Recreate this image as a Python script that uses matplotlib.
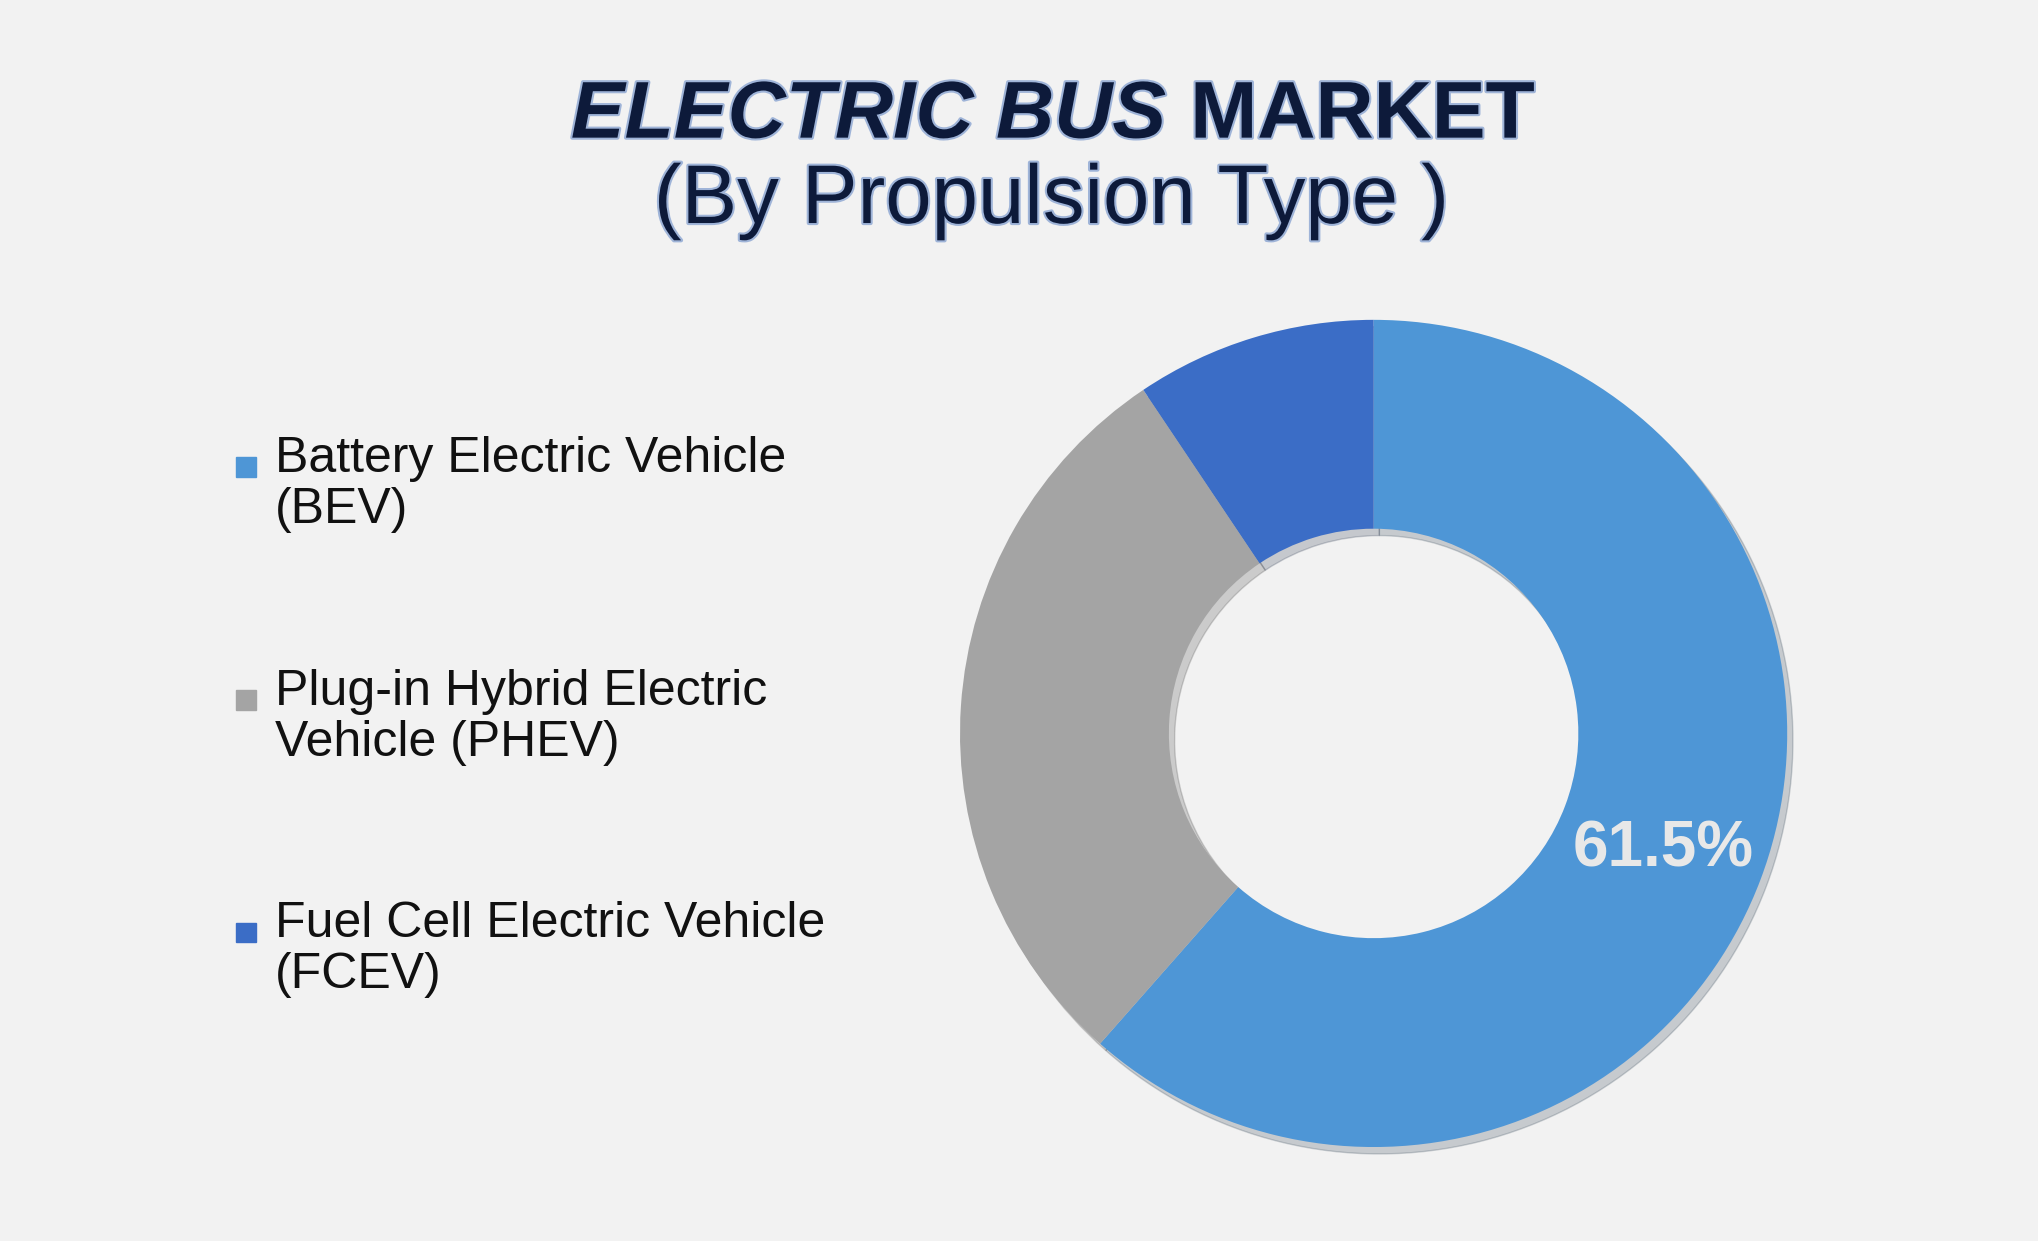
import matplotlib
matplotlib.use("Agg")
import matplotlib.pyplot as plt
import matplotlib.patheffects as pe

categories = ["Battery Electric Vehicle\n(BEV)", "Plug-in Hybrid Electric\nVehicle (PHEV)", "Fuel Cell Electric Vehicle\n(FCEV)"]
values = [61.5, 29.1, 9.4]
colors = ["#4e96d6", "#a4a4a4", "#3b6dc6"]
label_text = "61.5%"

plt.rcParams['font.family'] = ['Liberation Sans', 'DejaVu Sans']
fig = plt.figure(figsize=(20.38, 12.41), dpi=100, facecolor="#f2f2f2")

ax = fig.add_axes([0.467, 0.069, 0.414, 0.68])
ax.set_facecolor("#f2f2f2")
wedges, _ = ax.pie(values, colors=colors, startangle=90, counterclock=False,
                   wedgeprops=dict(width=0.505, edgecolor="none"),
                   shadow=dict(ox=0.01, oy=-0.012, alpha=0.2))
ax.set_aspect("equal")
ax.set_xlim(-1.02, 1.02)
ax.set_ylim(-1.02, 1.02)
ax.text(0.70, -0.28, label_text, ha="center", va="center", fontsize=46,
        fontweight="bold", color="#e8e8e8")

outline = [pe.withStroke(linewidth=3, foreground="#9fb4d8")]
navy = "#0d1a3a"
fig.text(0.572, 0.906, "ELECTRIC BUS", ha="right", va="center", fontsize=58,
         fontweight="bold", style="italic", color=navy, path_effects=outline)
fig.text(0.584, 0.906, "MARKET", ha="left", va="center", fontsize=58,
         fontweight="bold", color=navy, path_effects=outline)
fig.text(0.516, 0.838, "(By Propulsion Type )", ha="center", va="center", fontsize=60,
         color=navy, path_effects=outline)

ys = [0.625, 0.437, 0.25]
for cat, col, y in zip(categories, colors, ys):
    fig.patches.append(plt.Rectangle((0.116, y - 0.009), 0.0095, 0.0156, color=col,
                                     transform=fig.transFigure, figure=fig))
    fig.text(0.135, y + 0.024, cat, ha="left", va="top", fontsize=36, color="#111111",
             linespacing=1.15)

fig.savefig("out.png", dpi=100, facecolor=fig.get_facecolor())
